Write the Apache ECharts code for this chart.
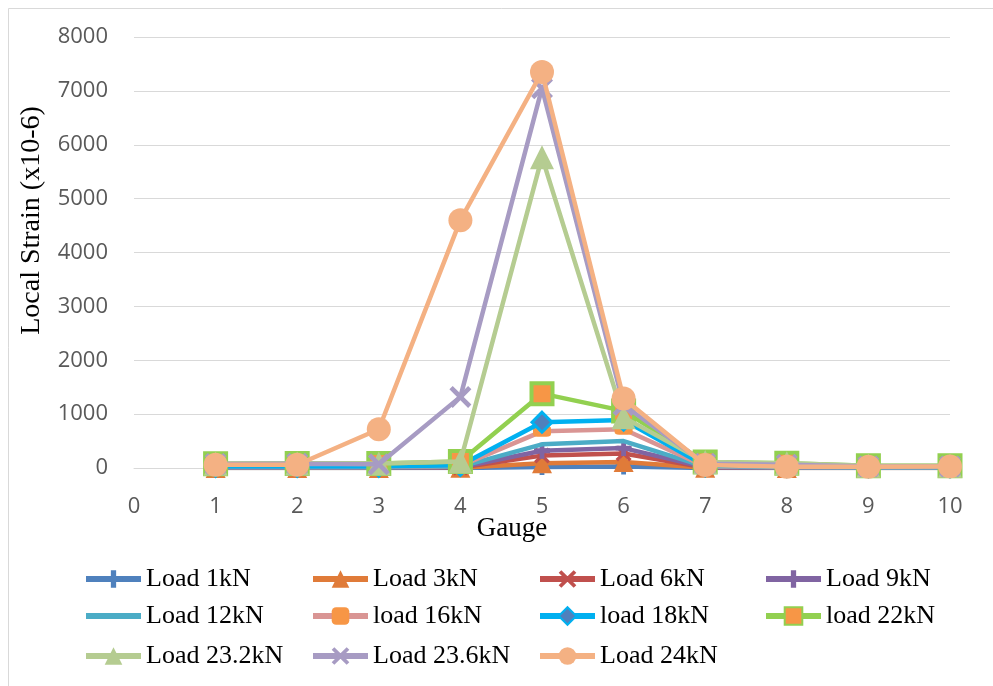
<!DOCTYPE html>
<html>
<head>
<meta charset="utf-8">
<script src="https://cdn.jsdelivr.net/npm/echarts@6/dist/echarts.min.js"></script>
<style>html,body{margin:0;padding:0;background:#fff}#c{width:993px;height:686px}</style>
</head>
<body>
<div id="c"></div>
<script>
var gauges = [1, 2, 3, 4, 5, 6, 7, 8, 9, 10];
var xTicks = [0, 1, 2, 3, 4, 5, 6, 7, 8, 9, 10];
var yTicks = [0, 1000, 2000, 3000, 4000, 5000, 6000, 7000, 8000];
var seriesNames = ['Load 1kN', 'Load 3kN', 'Load 6kN', 'Load 9kN', 'Load 12kN', 'load 16kN', 'load 18kN', 'load 22kN', 'Load 23.2kN', 'Load 23.6kN', 'Load 24kN'];
var load1  = [0, 0, 0, 0, 20, 30, 0, 0, 0, 0];
var load3  = [0, 0, 0, 5, 90, 110, 5, 0, 0, 0];
var load6  = [5, 5, 5, 10, 230, 270, 10, 5, 5, 5];
var load9  = [10, 10, 10, 15, 320, 370, 15, 10, 5, 5];
var load12 = [15, 15, 15, 25, 440, 500, 25, 15, 10, 10];
var load16 = [20, 20, 20, 40, 680, 720, 30, 20, 15, 15];
var load18 = [30, 30, 30, 50, 850, 890, 40, 25, 20, 20];
var load22 = [80, 85, 85, 120, 1380, 1060, 110, 90, 40, 40];
var load232 = [80, 85, 85, 120, 5770, 940, 110, 90, 40, 40];
var load236 = [75, 80, 70, 1320, 7050, 1170, 80, 60, 30, 30];
var load24 = [60, 60, 720, 4600, 7350, 1290, 55, 25, 25, 30];

var values = [load1, load3, load6, load9, load12, load16, load18, load22, load232, load236, load24];

var PLUS = 'path://M35,0H65V35H100V65H65V100H35V65H0V35H35Z';
var CROSS = 'path://M15,0L50,35L85,0L100,15L65,50L100,85L85,100L50,65L15,100L0,85L35,50L0,15Z';

var styles = [
  {color: '#4F81BD', symbol: PLUS, size: 16},
  {color: '#E07B39', symbol: 'triangle', size: 20},
  {color: '#C0504D', symbol: CROSS, size: 16},
  {color: '#8064A2', symbol: PLUS, size: 16},
  {color: '#4BACC6', symbol: 'none', size: 0},
  {color: '#D99594', symbol: 'roundRect', size: [18, 11], fill: '#F79646', border: '#F79646', bw: 0},
  {color: '#00B0F0', symbol: 'diamond', size: 20, fill: '#4F81BD', border: '#00B0F0', bw: 3},
  {color: '#92D050', symbol: 'rect', size: 21, fill: '#F79646', border: '#92D050', bw: 4},
  {color: '#B5CC91', symbol: 'triangle', size: 24},
  {color: '#A79BC3', symbol: CROSS, size: 22},
  {color: '#F4B183', symbol: 'circle', size: 24}
];

var series = seriesNames.map(function (name, i) {
  var s = styles[i];
  var data = gauges.map(function (g, j) { return [g, values[i][j]]; });
  return {
    name: name,
    type: 'line',
    data: data,
    symbol: s.symbol,
    symbolSize: s.size,
    showSymbol: s.symbol !== 'none',
    lineStyle: {color: s.color, width: 4.5},
    itemStyle: {
      color: s.fill || s.color,
      borderColor: s.border || s.color,
      borderWidth: s.bw || 0,
      opacity: 1
    },
    emphasis: {disabled: true},
    animation: false,
    z: 2 + i
  };
});

var colX = [83, 310, 537, 763];
var rowY = [566, 603, 643];
var legends = seriesNames.map(function (name, i) {
  var item = {name: name};
  if (styles[i].symbol === 'none') {
    item.itemStyle = {opacity: 0, color: 'rgba(0,0,0,0)', borderWidth: 0};
  }
  return {
    data: [item],
    left: colX[i % 4],
    top: rowY[Math.floor(i / 4)],
    padding: 0,
    itemWidth: 55,
    itemHeight: 22,
    itemGap: 0,
    selectedMode: false,
    lineStyle: {width: 6},
    textStyle: {fontFamily: 'Liberation Serif', fontSize: 26, color: '#000'}
  };
});

var chart = echarts.init(document.getElementById('c'), null, {renderer: 'canvas'});
chart.setOption({
  backgroundColor: '#fff',
  animation: false,
  graphic: [{
    type: 'rect', shape: {x: 8.5, y: 8.5, width: 1100, height: 800},
    style: {fill: 'none', stroke: '#d9d9d9', lineWidth: 1}, silent: true, z: -10
  }],
  grid: {left: 134, right: 43, top: 37, bottom: 218, containLabel: false},
  legend: legends,
  xAxis: {
    type: 'value', min: xTicks[0], max: xTicks[xTicks.length - 1], interval: 1,
    name: 'Gauge', nameLocation: 'middle', nameGap: 47, nameMoveOverlap: false,
    nameTextStyle: {fontFamily: 'Liberation Serif', fontSize: 27, color: '#000', padding: [0, 60, 0, 0]},
    axisLine: {show: true, lineStyle: {color: '#d9d9d9', width: 1}},
    axisTick: {show: false},
    splitLine: {show: false},
    axisLabel: {margin: 28, fontFamily: 'Open Sans', fontSize: 22, color: '#595959'}
  },
  yAxis: {
    type: 'value', min: yTicks[0], max: yTicks[yTicks.length - 1], interval: 1000,
    name: 'Local Strain (x10-6)', nameLocation: 'middle', nameGap: 88, nameRotate: 90, nameMoveOverlap: false,
    nameTextStyle: {fontFamily: 'Liberation Serif', fontSize: 28, color: '#000', padding: [0, 0, 0, 64]},
    axisLine: {show: false},
    axisTick: {show: false},
    splitLine: {show: true, lineStyle: {color: '#d9d9d9', width: 1}},
    axisLabel: {margin: 26, fontFamily: 'Open Sans', fontSize: 22, color: '#595959',
      formatter: function (v) { return String(v); }}
  },
  series: series
});
</script>
</body>
</html>
